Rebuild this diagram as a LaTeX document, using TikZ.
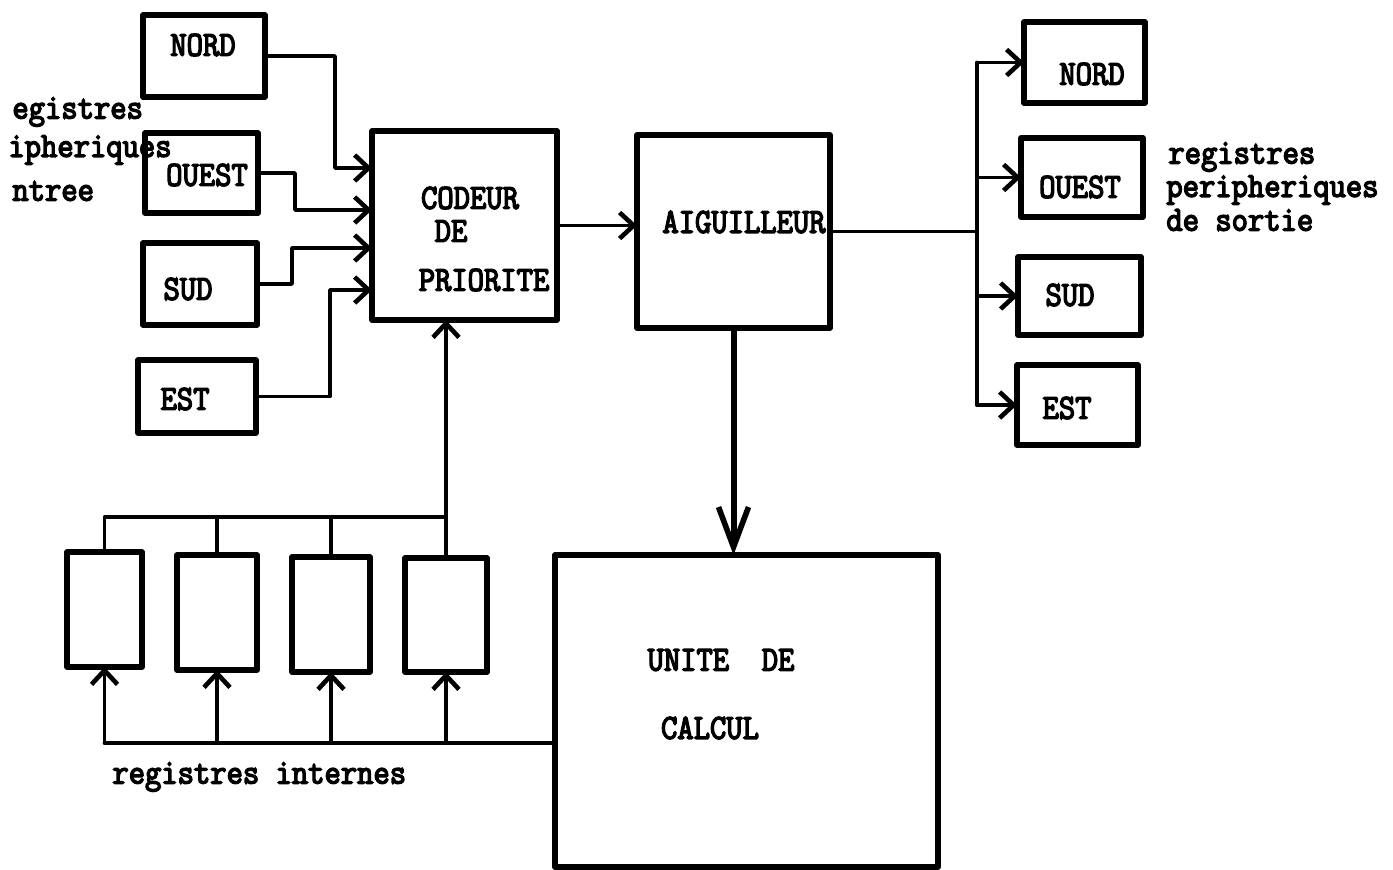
\documentclass[tikz,border=0pt]{standalone}
\usepackage{fontspec}
\newfontfamily\tw[FakeBold=4,FakeStretch=0.9]{Latin Modern Mono}
\usetikzlibrary{arrows.meta}
\begin{document}
\begin{tikzpicture}[x=0.5pt,y=-0.5pt,
  box/.style={draw, line width=2.6pt, inner sep=0pt, outer sep=0pt, line join=round},
  sz/.style 2 args={minimum width=#1*0.5pt, minimum height=#2*0.5pt},
  txt/.style={font=\tw\bfseries\fontsize{17.6}{20}\selectfont, inner sep=0pt},
  conn/.style={line width=1.9pt, line join=round, line cap=round},
  tip/.style={-{Straight Barb[length=7pt,width=13pt,line width=2.3pt]}},
  bigtip/.style={-{Straight Barb[length=20pt,width=15pt,line width=2.8pt]}}
]
\useasboundingbox (0,0) rectangle (1393,869);

% input peripheral registers
\node[box, sz={122}{82}] (nordL) at (204,56) {};
\node[box, sz={113}{80}] (ouestL) at (201.5,173) {};
\node[box, sz={114}{82}] (sudL) at (200,284) {};
\node[box, sz={118}{73}] (estL) at (197,396.5) {};
\node[txt] (tnordL) at (203,45) {NORD};
\node[txt] (touestL) at (207,175) {OUEST};
\node[txt] (tsudL) at (188,289) {SUD};
\node[txt] (testL) at (185,399) {EST};

\node[txt, anchor=west] (lin1) at (12,112) {egistres};
\node[txt, anchor=west] (lin2) at (8,150) {ipheriques};
\node[txt, anchor=west] (lin3) at (12,191) {ntree};

% codeur
\node[box, sz={185}{189}] (codeur) at (464.5,225.5) {};
\node[txt] (tcod1) at (470,198) {CODEUR};
\node[txt] (tcod2) at (451,231) {DE};
\node[txt] (tcod3) at (484,280) {PRIORITE};

% aiguilleur
\node[box, sz={193}{193}] (aig) at (733.5,231.5) {};
\node[txt] (taig) at (744,222) {AIGUILLEUR};

% output peripheral registers
\node[box, sz={121}{81}] (nordR) at (1084.5,62.5) {};
\node[box, sz={122}{79}] (ouestR) at (1082,177.5) {};
\node[box, sz={123}{78}] (sudR) at (1079.5,296) {};
\node[box, sz={121}{80}] (estR) at (1077.5,405) {};
\node[txt] (tnordR) at (1092,74) {NORD};
\node[txt] (touestR) at (1080,187) {OUEST};
\node[txt] (tsudR) at (1070,295) {SUD};
\node[txt] (testR) at (1067,408) {EST};

\node[txt, anchor=west] (lout1) at (1168,157) {registres};
\node[txt, anchor=west] (lout2) at (1166,190) {peripheriques};
\node[txt, anchor=west] (lout3) at (1166,220) {de sortie};

% internal registers
\node[box, sz={75}{115}] (r1) at (104.5,609.5) {};
\node[box, sz={80}{115}] (r2) at (217,612.5) {};
\node[box, sz={78}{115}] (r3) at (331,614.5) {};
\node[box, sz={82}{114}] (r4) at (446,615) {};
\node[txt, anchor=west] (lint) at (112,777) {registres internes};

% unite de calcul
\node[box, sz={383}{312}] (unite) at (746.5,711) {};
\node[txt] (tun1) at (721,660) {UNITE\ \ DE};
\node[txt] (tun2) at (710,728) {CALCUL};

% inputs to codeur
\draw[conn, tip] (nordL.east) -| (335,168) -- (codeur.west |- 0,168);
\draw[conn, tip] (ouestL.east) -| (295,210) -- (codeur.west |- 0,210);
\draw[conn, tip] (sudL.east) -| (292,248) -- (codeur.west |- 0,248);
\draw[conn, tip] (estL.east) -| (330,290) -- (codeur.west |- 0,290);

% codeur to aiguilleur
\draw[conn, tip] (codeur.east) -- (aig.west |- codeur.east);

% aiguilleur to outputs
\coordinate (busm) at (977,231.5);
\draw[conn] (aig.east) -- (busm);
\draw[conn] (nordR.west -| busm) -- (estR.west -| busm);
\draw[conn, tip] (nordR.west -| busm) -- (nordR.west);
\draw[conn, tip] (ouestR.west -| busm) -- (ouestR.west);
\draw[conn, tip] (sudR.west -| busm) -- (sudR.west);
\draw[conn, tip] (estR.west -| busm) -- (estR.west);

% aiguilleur to unite
\draw[line width=3pt, bigtip] (aig.south) -- (aig.south |- unite.north);

% internal registers top bus to codeur
\coordinate (tb) at (0,517);
\draw[conn] (r1.north) -- (r1.north |- tb) -- (r4.north |- tb);
\draw[conn] (r2.north) -- (r2.north |- tb);
\draw[conn] (r3.north) -- (r3.north |- tb);
\draw[conn] (r4.north) -- (r4.north |- tb);
\draw[conn, tip] (r4.north |- tb) -- (codeur.south -| r4.north);

% unite to internal registers bottom bus
\coordinate (bb) at (0,743);
\draw[conn] (unite.west |- bb) -- (r1.south |- bb);
\draw[conn, tip] (r1.south |- bb) -- (r1.south);
\draw[conn, tip] (r2.south |- bb) -- (r2.south);
\draw[conn, tip] (r3.south |- bb) -- (r3.south);
\draw[conn, tip] (r4.south |- bb) -- (r4.south);
\end{tikzpicture}
\end{document}
